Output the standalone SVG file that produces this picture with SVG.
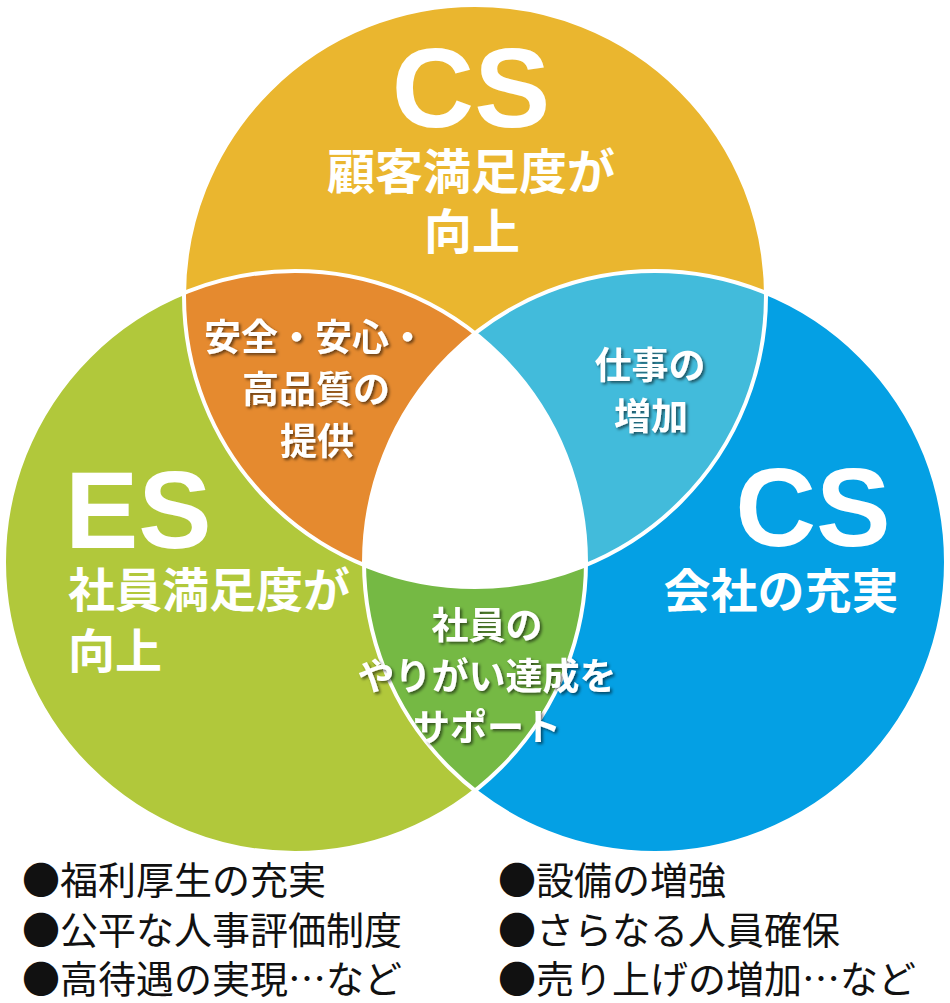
<svg xmlns="http://www.w3.org/2000/svg" width="950" height="1003" viewBox="0 0 950 1003">
<style>
.big{font-family:"Liberation Sans",Arial,sans-serif;font-weight:bold;fill:#fff}
.jb{font-family:"Liberation Sans","Noto Sans CJK JP",sans-serif;font-weight:bold;fill:#fff}
.lab{font-family:"Liberation Sans","Noto Sans CJK JP",sans-serif;font-weight:bold;fill:#fff;font-size:37px;text-anchor:middle;filter:url(#sh)}
.bl{font-family:"Liberation Sans","Noto Sans CJK JP",sans-serif;font-size:38px;fill:#111}
.cjk{font-family:"Noto Sans CJK JP",sans-serif}
.ol{fill:none;stroke:#fff;stroke-width:4}
</style>
<defs>
<clipPath id="cTop"><circle cx="475" cy="296" r="290"/></clipPath>
<clipPath id="cLeft"><circle cx="295" cy="562" r="290"/></clipPath>
<clipPath id="cRight"><circle cx="655" cy="562" r="290"/></clipPath>
<filter id="sh" x="-20%" y="-30%" width="140%" height="160%">
<feDropShadow dx="2" dy="2" stdDeviation="1.5" flood-color="#000" flood-opacity="0.55"/>
</filter>
</defs>
<g id="circle-es"><circle cx="295" cy="562" r="290" fill="#B1C83B"/></g>
<g id="circle-cs-company"><circle cx="655" cy="562" r="290" fill="#04A0E4"/></g>
<g id="circle-cs-customer"><circle cx="475" cy="296" r="290" fill="#EAB62F"/></g>
<g id="overlap-top-left" clip-path="url(#cTop)"><circle cx="295" cy="562" r="290" fill="#E58A2F"/></g>
<g id="overlap-top-right" clip-path="url(#cTop)"><circle cx="655" cy="562" r="290" fill="#42BBDB"/></g>
<g id="overlap-left-right" clip-path="url(#cLeft)"><circle cx="655" cy="562" r="290" fill="#75B944"/></g>
<g id="overlap-center" clip-path="url(#cTop)"><g clip-path="url(#cLeft)"><circle cx="655" cy="562" r="290" fill="#fff"/></g></g>
<g id="outlines">
<circle class="ol" cx="475" cy="296" r="291"/>
<circle class="ol" cx="295" cy="562" r="291"/>
<circle class="ol" cx="655" cy="562" r="291"/>
</g>
<g id="label-top">
<text class="big" x="471" y="127" font-size="114" text-anchor="middle">CS</text>
<text class="jb" x="471" y="189" font-size="48" text-anchor="middle">顧客満足度が</text>
<text class="jb" x="472" y="249" font-size="48" text-anchor="middle">向上</text>
</g>
<g id="label-left">
<text class="big" x="65" y="548" font-size="110">ES</text>
<text class="jb" x="68" y="607" font-size="47">社員満足度が</text>
<text class="jb" x="68" y="668" font-size="47">向上</text>
</g>
<g id="label-right">
<text class="big" x="813" y="546" font-size="112" text-anchor="middle">CS</text>
<text class="jb" x="781" y="608" font-size="47" text-anchor="middle">会社の充実</text>
</g>
<g id="label-orange">
<text class="lab" x="315" y="351" font-size="36">安全・安心・</text>
<text class="lab" x="316" y="403">高品質の</text>
<text class="lab" x="317" y="455">提供</text>
</g>
<g id="label-cyan">
<text class="lab" x="650" y="379">仕事の</text>
<text class="lab" x="651" y="430">増加</text>
</g>
<g id="label-green">
<text class="lab" x="487" y="639">社員の</text>
<text class="lab" x="487" y="690">やりがい達成を</text>
<text class="lab" x="487" y="741">サポート</text>
</g>
<g id="list-left">
<text class="bl" x="22" y="894"><tspan class="cjk">●</tspan>福利厚生の充実</text>
<text class="bl" x="22" y="944"><tspan class="cjk">●</tspan>公平な人事評価制度</text>
<text class="bl" x="22" y="993"><tspan class="cjk">●</tspan>高待遇の実現<tspan class="cjk">…</tspan>など</text>
</g>
<g id="list-right">
<text class="bl" x="498" y="894"><tspan class="cjk">●</tspan>設備の増強</text>
<text class="bl" x="498" y="944"><tspan class="cjk">●</tspan>さらなる人員確保</text>
<text class="bl" x="498" y="993"><tspan class="cjk">●</tspan>売り上げの増加<tspan class="cjk">…</tspan>など</text>
</g>
</svg>
